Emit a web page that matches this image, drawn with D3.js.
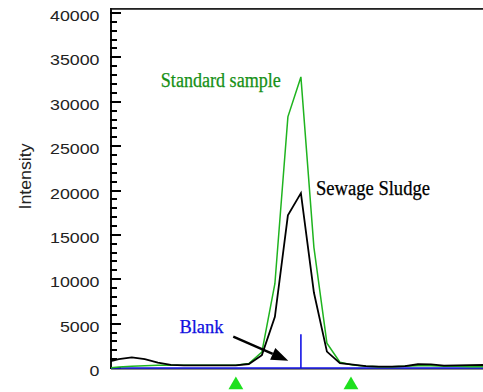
<!DOCTYPE html>
<html><head><meta charset="utf-8">
<script src="https://cdn.jsdelivr.net/npm/d3@7"></script>
<style>body{margin:0;background:#fff}svg{display:block}</style>
</head><body><svg id="c" width="483" height="392"></svg>
<script>
// ---- data ----
const scans = d3.range(0, 30);
const standardSample = [0, 100, 200, 260, 300, 300, 300, 300, 300, 300, 320, 500, 1800, 9500, 28300, 32800, 13600, 2800, 650, 350, 200, 150, 150, 200, 250, 250, 200, 200, 150, 150];
const sewageSludge = [650, 1000, 1200, 1000, 600, 350, 300, 300, 300, 300, 300, 450, 1450, 5770, 17200, 19700, 8500, 1850, 550, 380, 200, 150, 150, 200, 420, 400, 260, 300, 330, 340];
const blankScans = [0, 15, 15, 15, 29];
const blankValues = [0, 0, 3800, 0, 0];
const markerScans = [10, 18.85];
const yTickValues = [0, 5000, 10000, 15000, 20000, 25000, 30000, 35000, 40000];
const yTickLabels = ["0", "5000", "10000", "15000", "20000", "25000", "30000", "35000", "40000"];
const yMinorValues = d3.range(1000, 40000, 1000).filter(v => v % 5000 !== 0);

const svg = d3.select("#c");
const x = d3.scaleLinear().domain([0.4, 29]).range([111, 483]);
const y = d3.scaleLinear().domain([0, 40000]).range([368, 13]);

svg.append("defs").append("clipPath").attr("id", "clip")
  .append("rect").attr("x", 111).attr("y", 0).attr("width", 372).attr("height", 392);

// frame top line
svg.append("rect").attr("x", 110).attr("y", 8).attr("width", 373).attr("height", 1.8)
  .attr("fill", "#222");

// y axis line
svg.append("rect").attr("x", 110).attr("y", 8).attr("width", 2).attr("height", 361)
  .attr("fill", "#111");

// y ticks (inward) as filled rects
svg.append("g").attr("class", "major-ticks").selectAll("rect").data(yTickValues).join("rect")
  .attr("x", 110).attr("y", d => Math.round(y(d)) - 1).attr("width", 11).attr("height", 2)
  .attr("fill", "#000");
svg.append("g").attr("class", "minor-ticks").selectAll("rect").data(yMinorValues).join("rect")
  .attr("x", 110).attr("y", d => Math.round(y(d)) - 1).attr("width", 7).attr("height", 2)
  .attr("fill", "#000");

// tick labels
svg.append("g").selectAll("text").data(yTickValues).join("text")
  .attr("x", 99.5).attr("y", d => y(d) + 2.5)
  .attr("text-anchor", "end").attr("dominant-baseline", "central")
  .attr("font-family", "Liberation Sans, Arial, sans-serif").attr("font-size", 15)
  .attr("fill", "#222")
  .attr("textLength", (d, i) => yTickLabels[i].length * 9.9).attr("lengthAdjust", "spacingAndGlyphs")
  .text((d, i) => yTickLabels[i]);

// y label
svg.append("text").attr("transform", "translate(30.5,176.5) rotate(-90)")
  .attr("text-anchor", "middle")
  .attr("font-family", "Liberation Sans, Arial, sans-serif").attr("font-size", 16)
  .attr("fill", "#222").attr("textLength", 66).attr("lengthAdjust", "spacingAndGlyphs")
  .text("Intensity");

// x axis line
svg.append("line").attr("x1", 111).attr("x2", 483).attr("y1", y(0) + 0.8).attr("y2", y(0) + 0.8)
  .attr("stroke", "#111").attr("stroke-width", 1.2);

const plot = svg.append("g").attr("clip-path", "url(#clip)");
const line = d3.line().x(d => x(d[0])).y(d => y(d[1]));

plot.append("path").datum(blankScans.map((s, i) => [s, blankValues[i]]))
  .attr("d", line).attr("fill", "none").attr("stroke", "#1414e6").attr("stroke-width", 1.6);
plot.append("path").datum(scans.map((s, i) => [s, standardSample[i]]))
  .attr("d", line).attr("fill", "none").attr("stroke", "#1fb41f").attr("stroke-width", 1.5)
  .attr("stroke-linejoin", "miter");
plot.append("path").datum(scans.map((s, i) => [s, sewageSludge[i]]))
  .attr("d", line).attr("fill", "none").attr("stroke", "#000").attr("stroke-width", 1.8)
  .attr("stroke-linejoin", "miter");

// markers
const tri = d3.symbol().type(d3.symbolTriangle).size(95);
svg.append("g").selectAll("path").data(markerScans).join("path")
  .attr("transform", d => `translate(${x(d)},385)`)
  .attr("d", tri).attr("fill", "#1ee01e");

// annotations
const serif = "Liberation Serif, Times New Roman, serif";
svg.append("text").attr("x", x(4.23)).attr("y", y(31700))
  .attr("font-family", serif).attr("font-size", 20).attr("fill", "#169016")
  .attr("stroke", "#169016").attr("stroke-width", 0.25)
  .attr("textLength", 120).attr("lengthAdjust", "spacingAndGlyphs").text("Standard sample");
svg.append("text").attr("x", x(16.16)).attr("y", y(19530))
  .attr("font-family", serif).attr("font-size", 20).attr("fill", "#000")
  .attr("stroke", "#000").attr("stroke-width", 0.25)
  .attr("textLength", 114).attr("lengthAdjust", "spacingAndGlyphs").text("Sewage Sludge");
svg.append("text").attr("x", x(5.66)).attr("y", y(3890))
  .attr("font-family", serif).attr("font-size", 19).attr("fill", "#1010e0")
  .attr("stroke", "#1010e0").attr("stroke-width", 0.25)
  .attr("textLength", 44).attr("lengthAdjust", "spacingAndGlyphs").text("Blank");

// arrow
const tail = [x(9.8), y(3530)], tip = [x(14.03), y(820)];
const ang = Math.atan2(tip[1] - tail[1], tip[0] - tail[0]);
const hl = 17, hw = 6.5;
const base = [tip[0] - hl * Math.cos(ang), tip[1] - hl * Math.sin(ang)];
svg.append("line").attr("x1", tail[0]).attr("y1", tail[1]).attr("x2", base[0]).attr("y2", base[1])
  .attr("stroke", "#000").attr("stroke-width", 2.4);
svg.append("path").attr("d", d3.line()([
  tip,
  [base[0] + hw * Math.sin(ang), base[1] - hw * Math.cos(ang)],
  [base[0] - hw * Math.sin(ang), base[1] + hw * Math.cos(ang)]
]) + "Z").attr("fill", "#000");
</script>
</body></html>
